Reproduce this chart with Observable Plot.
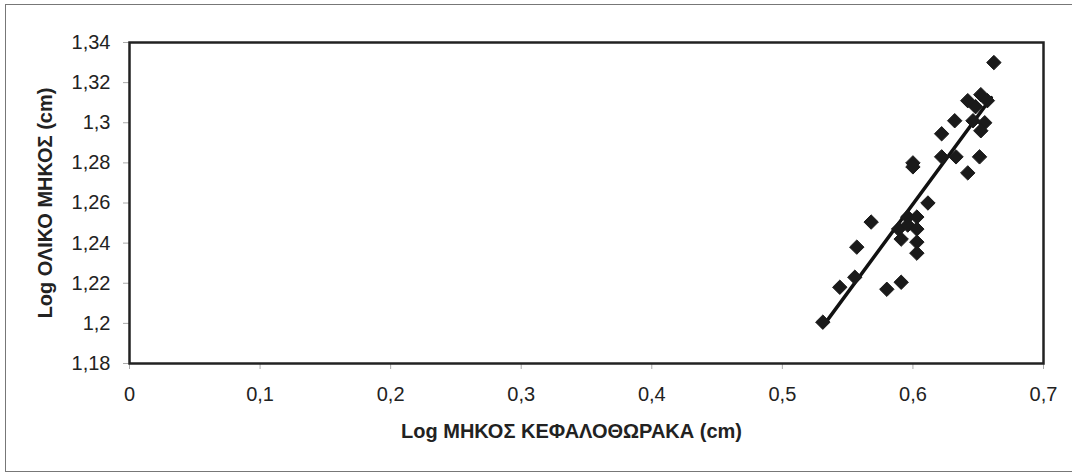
<!DOCTYPE html>
<html>
<head>
<meta charset="utf-8">
<script src="https://cdn.jsdelivr.net/npm/d3@7"></script>
<script src="https://cdn.jsdelivr.net/npm/@observablehq/plot@0.6"></script>
<style>
  html, body { margin: 0; padding: 0; background: #fff; }
  #wrap { position: relative; width: 1072px; height: 474px; overflow: hidden; background: #fff; }
  #border { position: absolute; left: 5px; top: 4px; width: 1080px; height: 466px;
            border-left: 1px solid #777; border-top: 1px solid #777; border-bottom: 1px solid #777; }
  #chart { position: absolute; left: 0; top: 0; }
</style>
</head>
<body>
<div id="wrap"><div id="border"></div><div id="chart"></div></div>
<script>
// Observed data: log carapace length (x) vs log total length (y)
const logCarapace = [0.662, 0.642, 0.652, 0.657, 0.648, 0.632, 0.646, 0.655, 0.652, 0.622,
                     0.600, 0.600, 0.622, 0.633, 0.651, 0.642, 0.6115, 0.568, 0.557, 0.596,
                     0.603, 0.589, 0.596, 0.603, 0.591, 0.603, 0.603, 0.5555, 0.544, 0.580,
                     0.591, 0.531];
const logTotal = [1.330, 1.311, 1.314, 1.311, 1.308, 1.301, 1.301, 1.300, 1.296, 1.2945,
                  1.280, 1.278, 1.283, 1.283, 1.283, 1.275, 1.260, 1.2505, 1.238, 1.253,
                  1.253, 1.247, 1.249, 1.247, 1.242, 1.2405, 1.235, 1.223, 1.218, 1.217,
                  1.2205, 1.2006];
// Fitted trend line as drawn (end points)
const trendX = [0.531, 0.660];
const trendY = [1.1985, 1.3125];

const xTicks = [0, 0.1, 0.2, 0.3, 0.4, 0.5, 0.6, 0.7];
const xTickLabels = ["0", "0,1", "0,2", "0,3", "0,4", "0,5", "0,6", "0,7"];
const yTicks = [1.18, 1.2, 1.22, 1.24, 1.26, 1.28, 1.3, 1.32, 1.34];
const yTickLabels = ["1,18", "1,2", "1,22", "1,24", "1,26", "1,28", "1,3", "1,32", "1,34"];
const xTitle = "Log ΜΗΚΟΣ ΚΕΦΑΛΟΘΩΡΑΚΑ (cm)";
const yTitle = "Log ΟΛΙΚΟ ΜΗΚΟΣ (cm)";

const points = logCarapace.map((x, i) => ({x, y: logTotal[i]}));
const trend = trendX.map((x, i) => ({x, y: trendY[i]}));

const chart = Plot.plot({
  width: 1072,
  height: 474,
  marginLeft: 129,
  marginRight: 29,
  marginTop: 42,
  marginBottom: 111,
  style: { fontFamily: "'Liberation Sans', Arial, sans-serif", fontSize: "20px", background: "transparent", color: "#222" },
  x: { domain: [0, 0.7] },
  y: { domain: [1.18, 1.34] },
  marks: [
    Plot.axisX({ ticks: xTicks, tickFormat: d => xTickLabels[xTicks.indexOf(d)], tickSize: 6, tickPadding: 17,
                 fontSize: 20, label: null, stroke: "#aaa", fill: "#222" }),
    Plot.axisY({ ticks: yTicks, tickFormat: d => yTickLabels[yTicks.indexOf(d)], tickSize: 6, tickPadding: 13,
                 fontSize: 20, label: null, stroke: "#aaa", fill: "#222" }),
    Plot.line(trend, { x: "x", y: "y", stroke: "#111", strokeWidth: 3.5 }),
    Plot.dot(points, { x: "x", y: "y", symbol: "diamond2", r: 6.5, fill: "#1a1a1a", stroke: "#1a1a1a", strokeWidth: 1 }),
    Plot.frame({ stroke: "#222", strokeWidth: 2.5 }),
    Plot.text([xTitle], { frameAnchor: "bottom", textAnchor: "middle", lineAnchor: "middle", dy: 68, dx: -15,
                          fontWeight: "bold", fontSize: 20, fill: "#222" }),
    Plot.text([yTitle], { frameAnchor: "left", textAnchor: "middle", lineAnchor: "middle", dx: -84, rotate: -90,
                          fontWeight: "bold", fontSize: 20, fill: "#222" })
  ]
});
document.getElementById("chart").appendChild(chart);
</script>
</body>
</html>
